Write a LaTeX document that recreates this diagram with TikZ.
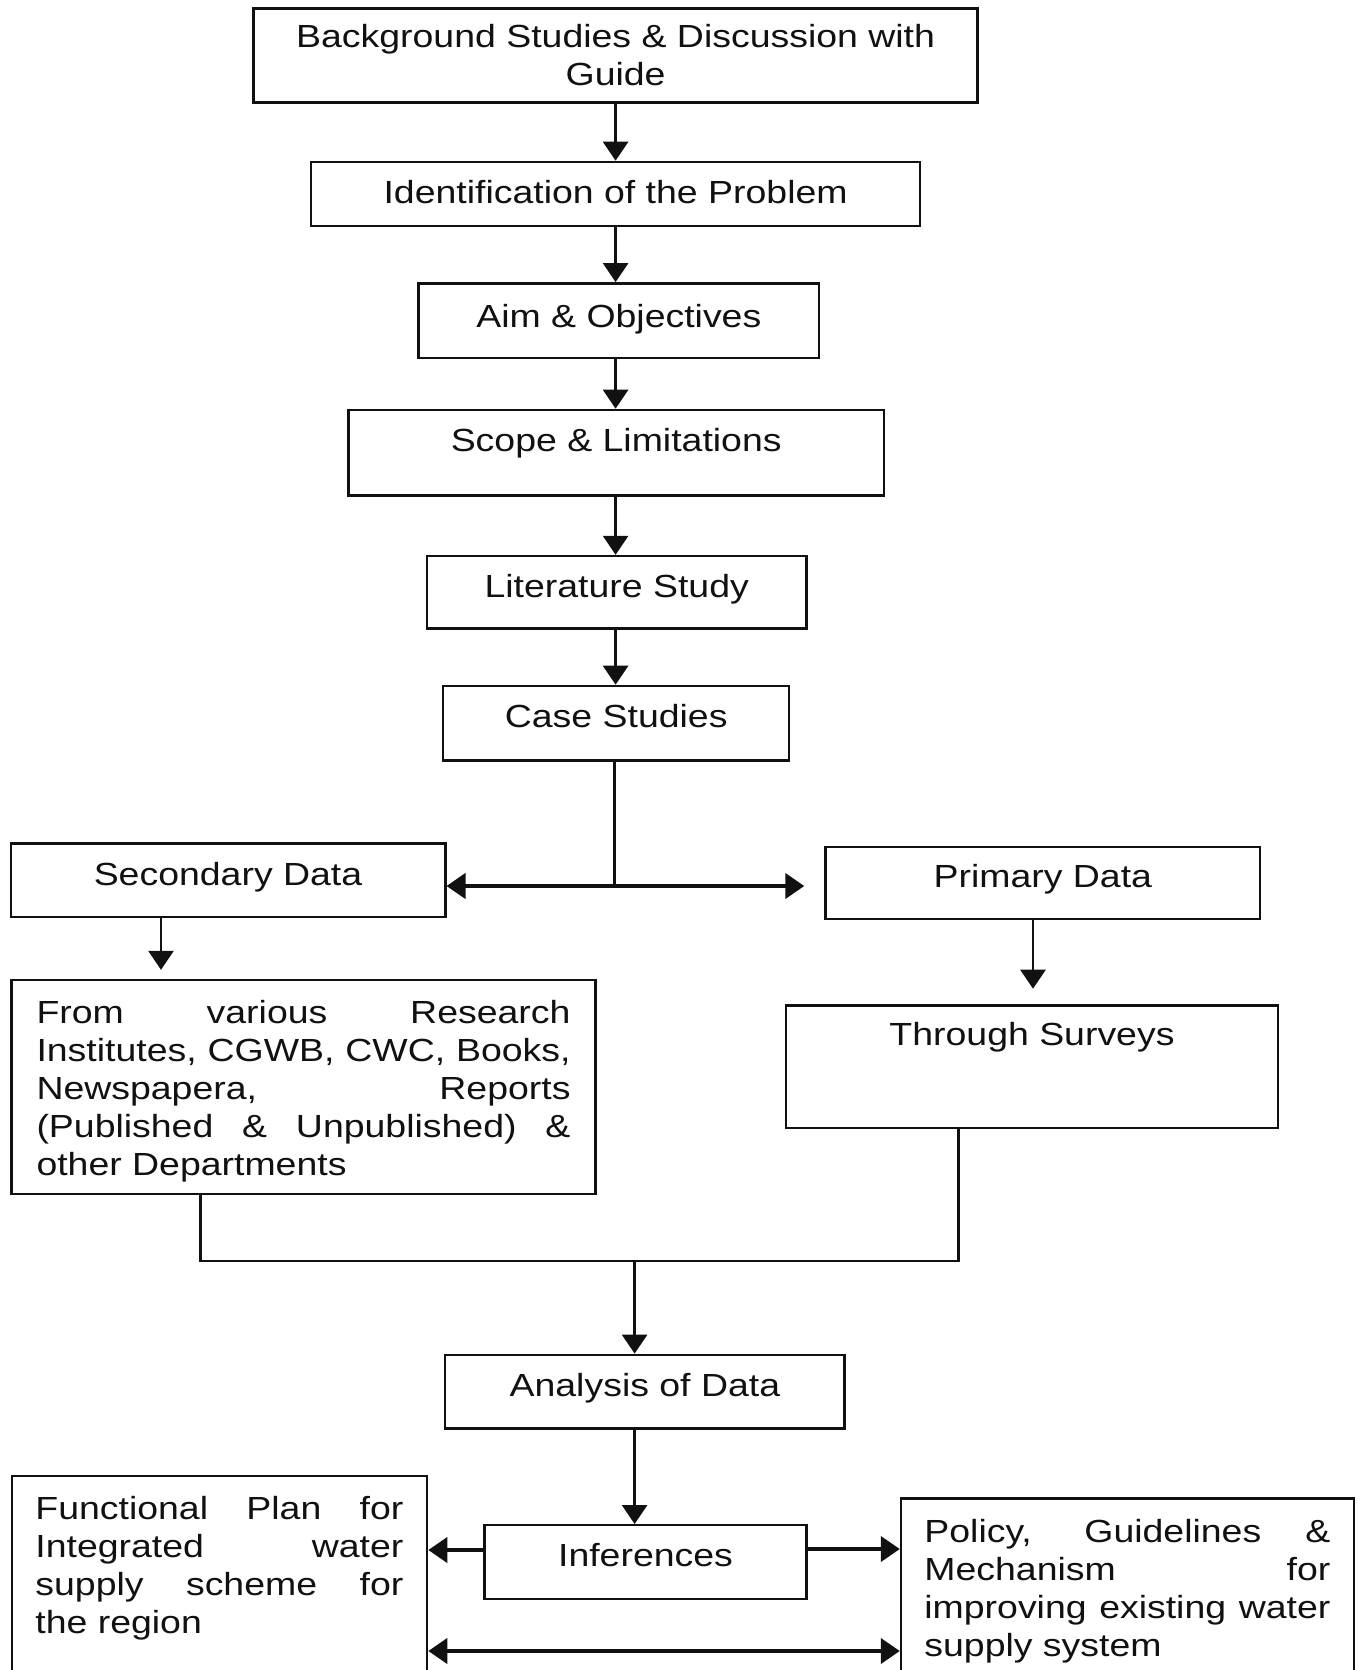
\documentclass[tikz,border=0pt]{standalone}
\usepackage{fontspec}
\setmainfont{Liberation Sans}[FakeStretch=1.17]
\usetikzlibrary{arrows.meta}
\hyphenpenalty=10000
\definecolor{FCInk}{HTML}{111111}
\tikzset{
  flow/.style={-{Triangle[length=9.5pt,width=12.5pt]},FCInk,line width=1.4pt},
  flowthick/.style={flow,line width=2pt},
  flowboth/.style={{Triangle[length=9.5pt,width=12.5pt]}-{Triangle[length=9.5pt,width=12.5pt]},
                   FCInk,line width=2pt},
  link/.style={FCInk,line width=1.4pt},
  box/.style={draw=FCInk,line width=1.2pt,fill=white,text=FCInk,inner sep=2pt,
              font=\fontsize{16}{19}\selectfont},
  stage/.style={box,align=center,text height=11.7pt,text depth=#1},
  stage/.default=3.4pt,
  note/.style={box,align=justify,inner xsep=0pt},
}

\begin{document}
\begin{tikzpicture}[x=0.5pt,y=-0.5pt]
  \useasboundingbox[fill=white] (0,0) rectangle (1357,1670);

  \node[box,align=center,minimum width=362pt,minimum height=46.9pt] (bg) at (615.6,55.4)
    {Background Studies \& Discussion with\\Guide};
  \node[stage=2.2pt,minimum width=304.6pt,minimum height=32pt] (ident) at (615.6,193.9)
    {Identification of the Problem};
  \node[stage=5.2pt,minimum width=200.3pt,minimum height=37.3pt] (aim) at (618.8,320.6)
    {Aim \& Objectives};
  \node[stage=12.9pt,minimum width=267.9pt,minimum height=42.7pt] (scope) at (616.2,452.6)
    {Scope \& Limitations};
  \node[stage=6.6pt,minimum width=189.6pt,minimum height=36.2pt] (lit) at (616.7,592.2)
    {Literature Study};
  \node[stage=7.7pt,minimum width=173pt,minimum height=37.3pt] (case) at (616.2,723.2)
    {Case Studies};

  \node[stage=6.2pt,minimum width=217.3pt,minimum height=36.7pt] (sec) at (228,880.3)
    {Secondary Data};
  \node[stage=7.7pt,minimum width=217.3pt,minimum height=36.2pt] (prim) at (1042.8,883)
    {Primary Data};
  \node[note,text width=267pt,text height=16.2pt,text depth=79.4pt,
        minimum width=291.9pt,minimum height=107pt] (src) at (303.5,1087)
    {From various Research\linebreak Institutes, CGWB, CWC, Books,\linebreak
     Newspapera, Reports\linebreak (Published \& Unpublished) \&\linebreak other Departments};
  \node[stage=32.7pt,minimum width=246pt,minimum height=61.3pt] (surv) at (1032,1066.7)
    {Through Surveys};

  \node[stage=7.2pt,minimum width=199.7pt,minimum height=36.8pt] (anal) at (644.9,1391.6)
    {Analysis of Data};
  \node[stage=7.2pt,minimum width=160.9pt,minimum height=36.8pt] (infer) at (645.5,1562)
    {Inferences};
  \node[note,text width=184pt,text height=11.7pt,text depth=75.8pt,
        minimum width=207.7pt,minimum height=106.9pt] (plan) at (219.4,1583.1)
    {Functional Plan for\linebreak Integrated water\linebreak supply scheme for\linebreak the region};
  \node[note,text width=203pt,text height=11.7pt,text depth=63.7pt,
        minimum width=226.4pt,minimum height=95.7pt] (policy) at (1127.4,1594.3)
    {Policy, Guidelines \&\linebreak Mechanism for\linebreak improving existing water\linebreak supply system};

  % main chain
  \draw[flow] (bg.south) -- (ident.north);
  \draw[flow] (ident.south) -- (ident.south |- aim.north);
  \draw[flow] (ident.south |- aim.south) -- (ident.south |- scope.north);
  \draw[flow] (ident.south |- scope.south) -- (ident.south |- lit.north);
  \draw[flow] (ident.south |- lit.south) -- (ident.south |- case.north);

  % split into the two data sources
  \coordinate (split) at (614.7,886);
  \draw[link] (split |- case.south) -- (split);
  \draw[flowthick] (split) -- (split -| sec.east);
  \draw[flowthick,shorten >=10pt] (split) -- (split -| prim.west);
  \draw[flow,shorten >=4.5pt] ([xshift=-33.5pt]sec.south) -- ([xshift=-33.5pt]sec.south |- src.north);
  \draw[flow,shorten >=7.75pt] ([xshift=-4.9pt]prim.south) -- ([xshift=-4.9pt]prim.south |- surv.north);

  % merge and results
  \coordinate (merge) at (634.6,1261);
  \draw[link] ([xshift=-51.5pt]src.south) |- (merge) -| ([xshift=-36.75pt]surv.south);
  \draw[flow] (merge) -- (merge |- anal.north);
  \draw[flow] (merge |- anal.south) -- (merge |- infer.north);
  \draw[flowthick] ([yshift=6pt]infer.west) -- ([yshift=6pt]infer.west -| plan.east);
  \draw[flowthick] ([yshift=6.5pt]infer.east) -- ([yshift=6.5pt]infer.east -| policy.west);
  \coordinate (base) at (640,1651);
  \draw[flowboth] (base -| plan.east) -- (base -| policy.west);
\end{tikzpicture}
\end{document}
